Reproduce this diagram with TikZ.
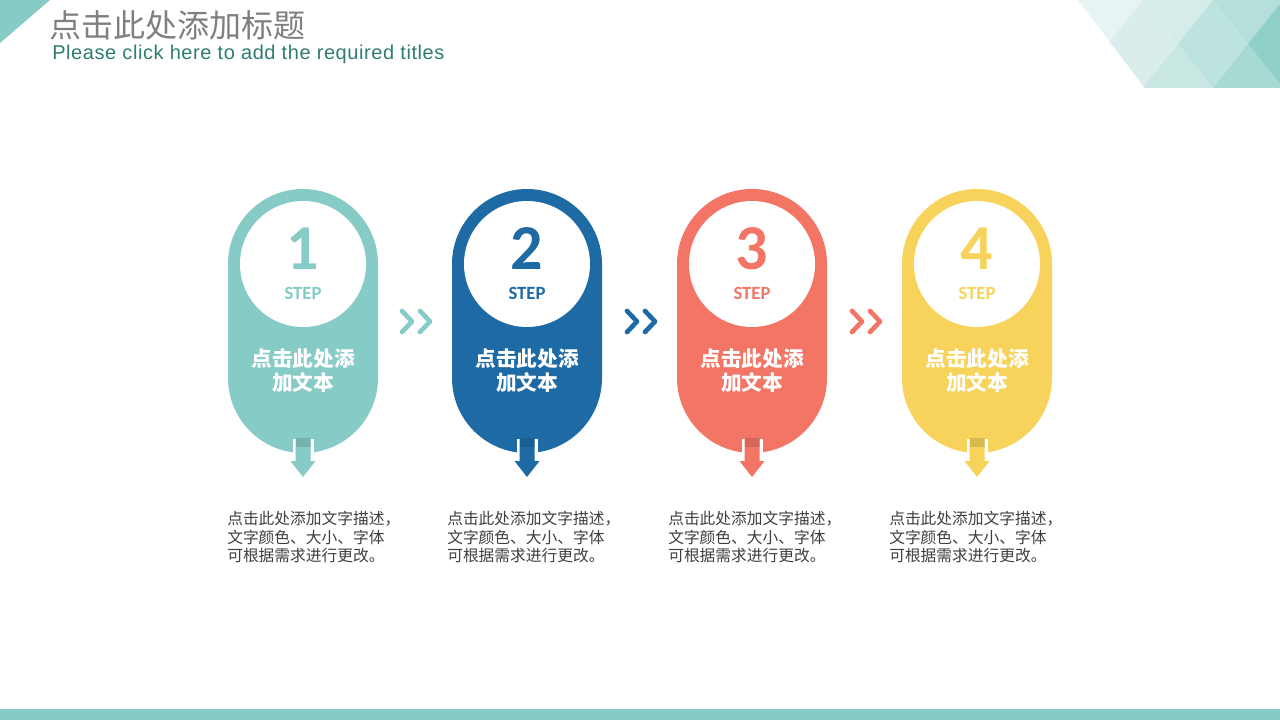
\documentclass[tikz,border=0pt]{standalone}
\usepackage{fontspec}
\setmainfont{Liberation Sans}
\newfontfamily\cjk{Noto Sans CJK SC}
\newfontfamily\calib{Carlito}
\definecolor{cteal}{HTML}{86CBC5}
\definecolor{cblue}{HTML}{1E6AA4}
\definecolor{cred}{HTML}{F37565}
\definecolor{cyel}{HTML}{F7D35C}
\definecolor{titlegray}{HTML}{7F7F7F}
\definecolor{subteal}{HTML}{2F7D71}
\definecolor{desc}{HTML}{3F3F3F}
\begin{document}
\begin{tikzpicture}[x=0.75pt,y=-0.75pt,
  pill/.style={rectangle,minimum width=112.5pt,minimum height=198pt,rounded corners=56.25pt,inner sep=0pt},
  disc/.style={circle,fill=white,minimum size=94.5pt,inner sep=0pt},
  numtxt/.style={font=\calib\bfseries\fontsize{48}{48}\selectfont,inner sep=0pt},
  steptxt/.style={font=\calib\bfseries\fontsize{14}{14}\selectfont,inner sep=0pt},
  pilltxt/.style={font=\cjk\bfseries\fontsize{15.5}{18}\selectfont,text=white,align=center,inner sep=0pt},
  desctxt/.style={font=\cjk\fontsize{11.8}{13.9}\selectfont,text=desc,align=left,anchor=north west,inner sep=0pt},
  chev/.style={line width=3.5pt,line cap=round,line join=round}
]
\useasboundingbox (0,0) rectangle (1280,720);
\fill[white] (0,0) rectangle (1280,720);
% top-left triangle
\fill[cteal] (0,0) -- (50,0) -- (0,43) -- cycle;
% top-right lattice
\begin{scope}
\clip (1078,0) -- (1280,0) -- (1280,88) -- (1145,88) -- cycle;
\fill[color={rgb,255:red,230;green,244;blue,243}] (1040,0) rectangle (1280,88);
\fill[color={rgb,255:red,213;green,236;blue,234}] (1143,0) -- (1213,0) -- (1178,44) -- cycle;
\fill[color={rgb,255:red,181;green,223;blue,218}] (1213,0) -- (1283,0) -- (1248,44) -- cycle;
\fill[color={rgb,255:red,217;green,238;blue,236}] (1143,0) -- (1178,44) -- (1143,88) -- (1108,44) -- cycle;
\fill[color={rgb,255:red,220;green,239;blue,237}] (1108,44) -- (1143,88) -- (1073,88) -- cycle;
\fill[color={rgb,255:red,189;green,227;blue,223}] (1213,0) -- (1248,44) -- (1213,88) -- (1178,44) -- cycle;
\fill[color={rgb,255:red,200;green,231;blue,227}] (1178,44) -- (1213,88) -- (1143,88) -- cycle;
\fill[color={rgb,255:red,143;green,208;blue,201}] (1283,0) -- (1318,44) -- (1283,88) -- (1248,44) -- cycle;
\fill[color={rgb,255:red,168;green,218;blue,212}] (1248,44) -- (1283,88) -- (1213,88) -- cycle;
\end{scope}
% titles
\node[anchor=west,inner sep=0pt,font=\cjk\fontsize{24}{24}\selectfont,text=titlegray] (title) at (49,25) {点击此处添加标题};
\node[anchor=west,inner sep=0pt,font=\addfontfeature{LetterSpace=2.9}\fontsize{15}{15}\selectfont,text=subteal] (subtitle) at (52,54) {Please click here to add the required titles};
% bottom bar
\fill[cteal] (0,709) rectangle (1280,720);
% steps
\foreach \i/\c/\cx in {1/cteal/303,2/cblue/527,3/cred/752,4/cyel/977}{
  \node[pill,fill=\c] (pill\i) at (\cx,321) {};
  \node[disc] (disc\i) at (\cx,264) {};
  \node[numtxt,text=\c] (num\i) at (\cx,249) {\i};
  \node[steptxt,text=\c] (step\i) at (\cx,293) {STEP};
  \node[pilltxt] (ptxt\i) at (\cx,371) {点击此处添\\加文本};
  \fill[white] (\cx-10.5,439) rectangle (\cx+10.5,455);
  \fill[\c] (\cx-7.5,438) -- (\cx+7.5,438) -- (\cx+7.5,461) -- (\cx+12.5,461) -- (\cx,477) -- (\cx-12.5,461) -- (\cx-7.5,461) -- cycle;
  \fill[black,opacity=0.12] (\cx-7.5,438) rectangle (\cx+7.5,447);
}
\node[desctxt] (d1) at (227,511) {点击此处添加文字描述，\\文字颜色、大小、字体\\可根据需求进行更改。};
\node[desctxt] (d2) at (447,511) {点击此处添加文字描述，\\文字颜色、大小、字体\\可根据需求进行更改。};
\node[desctxt] (d3) at (668,511) {点击此处添加文字描述，\\文字颜色、大小、字体\\可根据需求进行更改。};
\node[desctxt] (d4) at (889,511) {点击此处添加文字描述，\\文字颜色、大小、字体\\可根据需求进行更改。};
% chevrons
\foreach \c/\ox in {cteal/0,cblue/225,cred/450}{
  \draw[chev,\c] (402+\ox,311) -- (412+\ox,321.5) -- (402+\ox,332);
  \draw[chev,\c] (420+\ox,311) -- (430+\ox,321.5) -- (420+\ox,332);
}
\end{tikzpicture}
\end{document}
